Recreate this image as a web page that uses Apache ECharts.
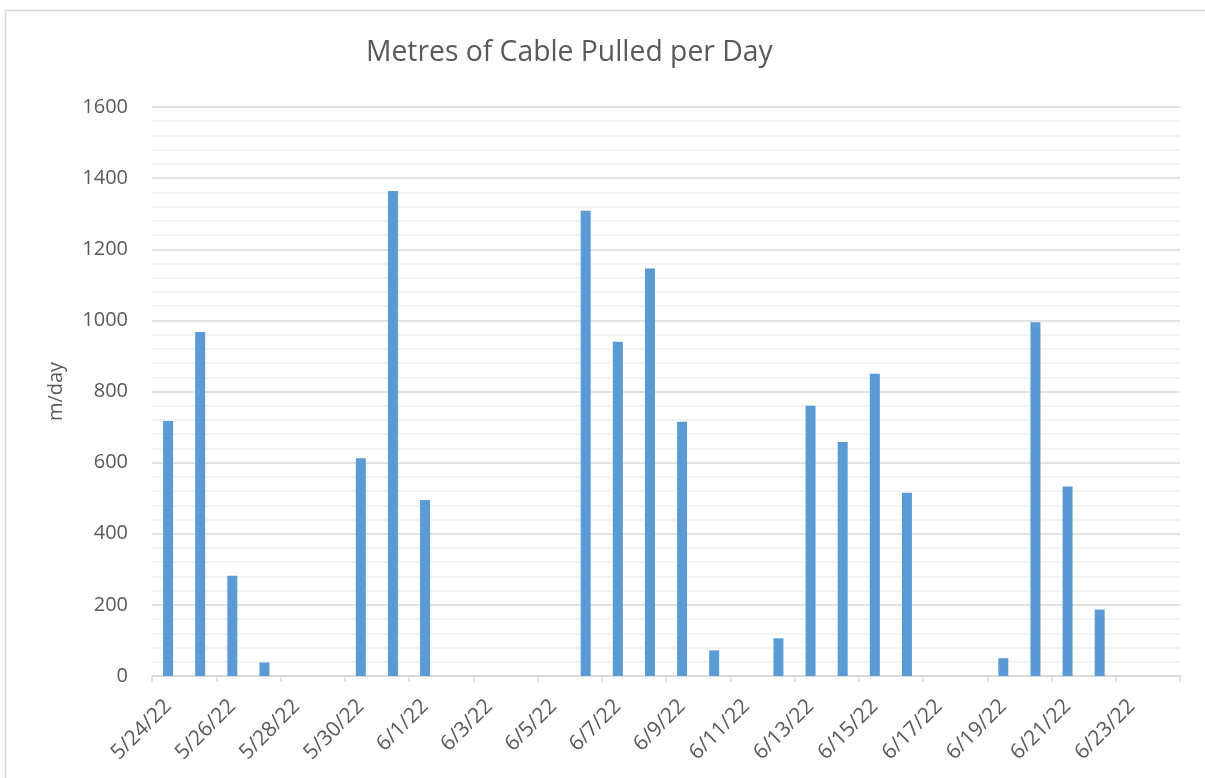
<!DOCTYPE html>
<html>
<head>
<meta charset="utf-8">
<script src="https://cdn.jsdelivr.net/npm/echarts@6/dist/echarts.min.js"></script>
<style>
html,body{margin:0;padding:0;background:#fff;}
#chart{width:1205px;height:778px;}
</style>
</head>
<body>
<div id="chart"></div>
<script>
const categories = ['5/24/22','5/25/22','5/26/22','5/27/22','5/28/22','5/29/22','5/30/22','5/31/22',
  '6/1/22','6/2/22','6/3/22','6/4/22','6/5/22','6/6/22','6/7/22','6/8/22','6/9/22','6/10/22',
  '6/11/22','6/12/22','6/13/22','6/14/22','6/15/22','6/16/22','6/17/22','6/18/22','6/19/22',
  '6/20/22','6/21/22','6/22/22','6/23/22','6/24/22'];
const metresPerDay = [717, 967, 282, 38, 0, 0, 612, 1364,
  495, 0, 0, 0, 0, 1308, 940, 1146, 715, 72,
  0, 106, 760, 658, 850, 515, 0, 0, 50,
  995, 533, 187, 0, 0];
const titleText = 'Metres of Cable Pulled per Day';
const yAxisName = 'm/day';

const chart = echarts.init(document.getElementById('chart'), null, {renderer: 'canvas'});
const font = '"Open Sans", "Noto Sans", sans-serif';
chart.setOption({
  animation: false,
  backgroundColor: '#ffffff',
  graphic: [{
    type: 'rect', left: 3, top: 8, silent: true,
    shape: {width: 1230, height: 800},
    style: {fill: 'none', stroke: '#d9d9d9', lineWidth: 1.5}
  }, {
    type: 'text', left: 366, top: 39, silent: true,
    style: {text: titleText, font: '28.3px ' + font, fill: '#595959'}
  }],
  grid: {left: 152, right: 25, top: 107, bottom: 102, containLabel: false},
  xAxis: {
    type: 'category', data: categories, boundaryGap: true,
    axisLine: {lineStyle: {color: '#d9d9d9', width: 1.5}},
    axisTick: {show: true, interval: 1, alignWithLabel: false, length: 6, lineStyle: {color: '#d9d9d9', width: 1.5}},
    axisLabel: {interval: 1, rotate: 45, margin: 27, fontFamily: font, fontSize: 21, color: '#595959'}
  },
  yAxis: {
    type: 'value', min: 0, max: 1600, interval: 200,
    name: yAxisName, nameLocation: 'middle', nameGap: 86, nameRotate: 90,
    nameTextStyle: {fontFamily: font, fontSize: 20, color: '#595959'},
    axisLine: {show: false}, axisTick: {show: false},
    axisLabel: {margin: 24, fontFamily: font, fontSize: 20, color: '#595959', formatter: v => String(v)},
    splitLine: {lineStyle: {color: '#d9d9d9', width: 1.5}},
    minorTick: {show: false, splitNumber: 5},
    minorSplitLine: {show: true, lineStyle: {color: '#f0f0f0', width: 1.5}}
  },
  series: [{
    type: 'bar', data: metresPerDay, barWidth: 10,
    itemStyle: {color: '#5b9bd5'}
  }]
});
</script>
</body>
</html>
